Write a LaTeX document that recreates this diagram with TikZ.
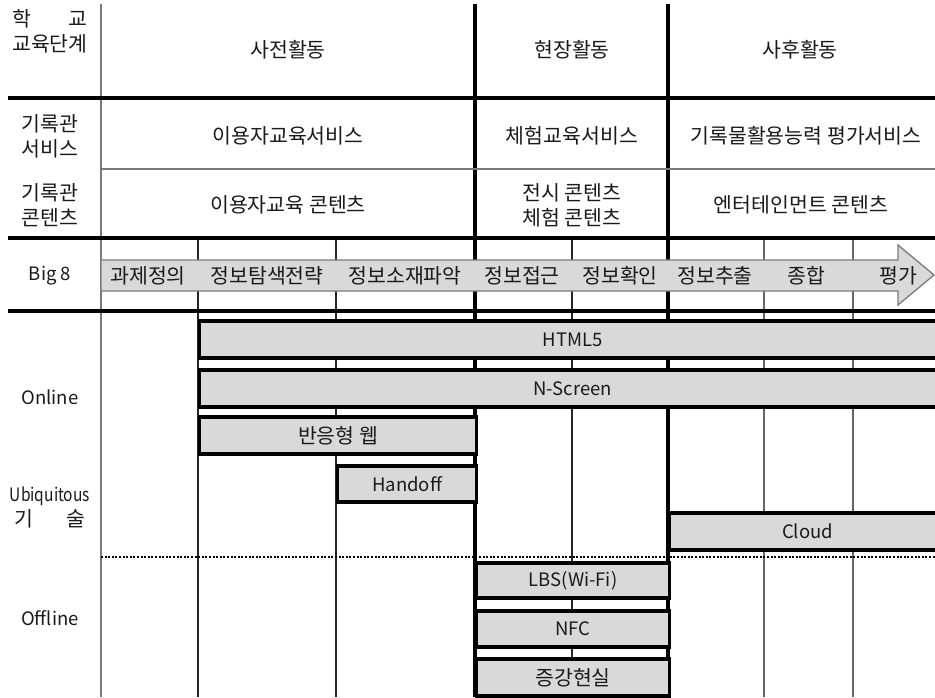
\documentclass[tikz,border=0pt]{standalone}
\usepackage{fontspec}
\setmainfont{Noto Sans CJK KR}
\usepackage{calc}
\definecolor{txt}{HTML}{1A1A1A}
\definecolor{barfill}{HTML}{D9D9D9}
\definecolor{gridgray}{HTML}{7A7A7A}
\newcommand{\lat}{\fontsize{18.5}{25}\selectfont}
\begin{document}
\begin{tikzpicture}[x=1pt,y=-1pt,
  every node/.style={font=\fontsize{20.5}{25}\selectfont, text=txt, inner sep=0pt},
  kline/.style={draw=black, line width=3.2pt},
  gline/.style={draw=gridgray, line width=1.7pt},
  tline/.style={draw=black!85, line width=1.1pt},
  tgline/.style={draw=black!60, line width=1.1pt},
  dotline/.style={draw=black, line width=2.6pt, dash pattern=on 2pt off 1.6pt},
  band/.style={draw=gridgray, line width=1.3pt, fill=barfill},
  bar/.style={draw=black, line width=3.1pt, fill=barfill, rectangle, anchor=west},
  lab/.style={align=center}
]
\useasboundingbox (0,0) rectangle (935,697);
\fill[white] (0,0) rectangle (935,697);

% grid lines
\draw[gline] (101,4) -- (101,697);
\foreach \x in {198,336,572} \draw[tline] (\x,238) -- (\x,697);
\foreach \x in {764,853} \draw[tgline] (\x,238) -- (\x,697);
\draw[kline] (475,4) -- (475,697);
\draw[kline] (668,4) -- (668,697);
\draw[kline] (8,98) -- (935,98);
\draw[gline] (101,169) -- (935,169);
\draw[kline] (8,238) -- (935,238);
\draw[kline] (8,311) -- (935,311);
\draw[dotline] (101,557) -- (935,557);

% Big 8 arrow
\draw[band] (101,260) -- (898,260) -- (898,245) -- (934,275) -- (898,305) -- (898,291) -- (101,291) -- cycle;

% left column labels
\node[lab] (lvl) at (50,31) {\makebox[\widthof{교육단계}]{학\hfill 교}\\교육단계};
\node[lab] (svc) at (50,136) {기록관\\서비스};
\node[lab] (cnt) at (50,205) {기록관\\콘텐츠};
\node[font=\lat] (big) at (50,276) {Big 8};
\node[font=\lat] (onl) at (50,397) {Online};
\node[lab] (ubi) at (50,507) {{\lat\scalebox{0.84}[1]{Ubiquitous}}\\\makebox[70pt]{기\hfill 술}};
\node[font=\lat] (off) at (50,618) {Offline};

% header row
\node (pre) at (288,50) {사전활동};
\node (site) at (572,50) {현장활동};
\node (post) at (800,50) {사후활동};
% service row
\node (s1) at (288,136) {이용자교육서비스};
\node (s2) at (572,136) {체험교육서비스};
\node (s3) at (806,136) {기록물활용능력 평가서비스};
% contents row
\node (c1) at (288,205) {이용자교육 콘텐츠};
\node[lab] (c2) at (572,205) {전시 콘텐츠\\체험 콘텐츠};
\node (c3) at (801,205) {엔터테인먼트 콘텐츠};

% Big 8 steps
\node (b1) at (148,276) {과제정의};
\node (b2) at (267,276) {정보탐색전략};
\node (b3) at (405,276) {정보소재파악};
\node (b4) at (522,276) {정보접근};
\node (b5) at (620,276) {정보확인};
\node (b6) at (715,276) {정보추출};
\node (b7) at (806,276) {종합};
\node (b8) at (898,276) {평가};

% technology bars
\node[bar, font=\lat, minimum width=746pt, minimum height=37pt] (html) at (198,339.5) {HTML5};
\node[bar, font=\lat, minimum width=746pt, minimum height=37pt] (nscr) at (198,388.5) {N-Screen};
\node[bar, minimum width=277pt, minimum height=37pt] (web) at (198,435.5) {반응형 웹};
\node[bar, font=\lat, minimum width=139pt, minimum height=36pt] (hand) at (336,484) {Handoff};
\node[bar, font=\lat, minimum width=276pt, minimum height=37pt] (cloud) at (668,531.5) {Cloud};
\node[bar, font=\lat, minimum width=193pt, minimum height=35pt] (lbs) at (475,580.5) {LBS(Wi-Fi)};
\node[bar, font=\lat, minimum width=193pt, minimum height=36pt] (nfc) at (475,629) {NFC};
\node[bar, minimum width=193pt, minimum height=37pt] (ar) at (475,677.5) {증강현실};
\end{tikzpicture}
\end{document}
